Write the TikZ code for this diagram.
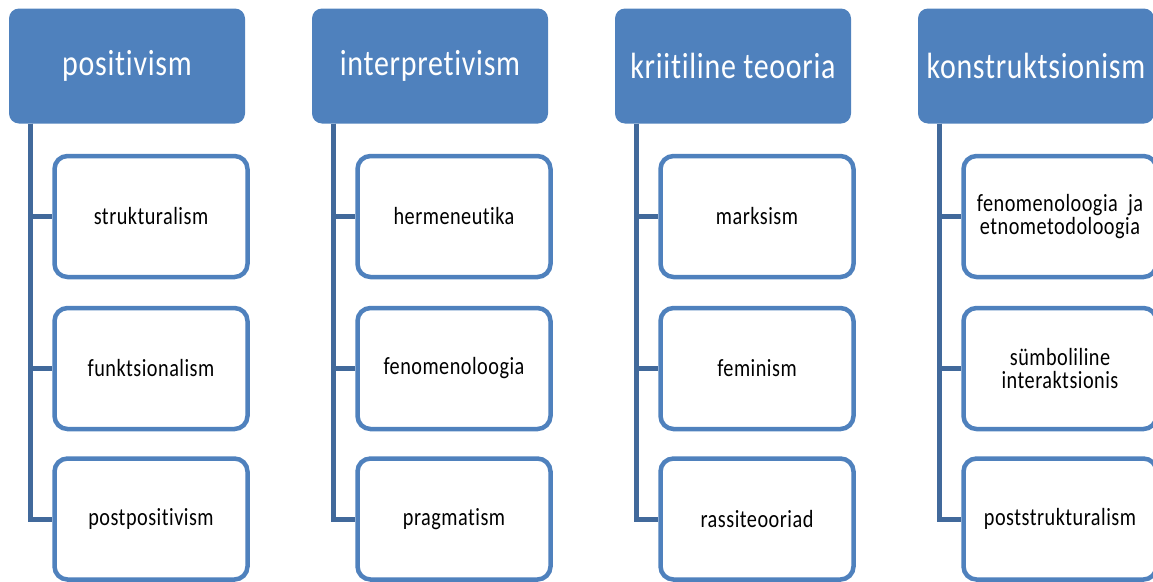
\documentclass[tikz,border=0pt]{standalone}
\usepackage{fontspec}
\setmainfont{Carlito}[FakeStretch=0.82, LetterSpace=2, RawFeature={-liga;-clig;-calt;-dlig}]
\usetikzlibrary{positioning}
\definecolor{headblue}{HTML}{4F81BD}
\definecolor{trunkblue}{HTML}{41699B}
\tikzset{
  head/.style={fill=headblue, rounded corners=10pt, minimum width=236pt, minimum height=115pt, text=white, font=\fontsize{36.5}{36.5}\selectfont},
  leaf/.style={draw=headblue, line width=4.5pt, fill=white, rounded corners=13pt, minimum width=193pt, minimum height=121pt, align=center, font=\fontsize{24.7}{23}\selectfont},
  trunk/.style={draw=trunkblue, line width=5pt}
}

\begin{document}
\begin{tikzpicture}[x=1pt, y=-1pt]
  % Page frame
  \clip (0,0) rectangle (1153,581);

  % Column 1: positivism
  \node[head] (pos) at (127,66) {positivism};
  \node[leaf] (pos1) at (151,216.5) {strukturalism};
  \node[leaf] (pos2) at (151,368.5) {funktsionalism};
  \node[leaf] (pos3) at (151,519) {postpositivism};
  \draw[trunk] ([xshift=21.5pt]pos.south west) |- (pos3.west);
  \draw[trunk] ([xshift=21.5pt]pos.south west) |- (pos1.west);
  \draw[trunk] ([xshift=21.5pt]pos.south west) |- (pos2.west);

  % Column 2: interpretivism
  \node[head] (int) at (430,66) {interpretivism};
  \node[leaf] (int1) at (454,216.5) {hermeneutika};
  \node[leaf] (int2) at (454,368.5) {fenomenoloogia};
  \node[leaf] (int3) at (454,519) {pragmatism};
  \draw[trunk] ([xshift=21.5pt]int.south west) |- (int3.west);
  \draw[trunk] ([xshift=21.5pt]int.south west) |- (int1.west);
  \draw[trunk] ([xshift=21.5pt]int.south west) |- (int2.west);

  % Column 3: kriitiline teooria
  \node[head] (kri) at (733,66) {kriitiline teooria};
  \node[leaf] (kri1) at (757,216.5) {marksism};
  \node[leaf] (kri2) at (757,368.5) {feminism};
  \node[leaf] (kri3) at (757,519) {rassiteooriad};
  \draw[trunk] ([xshift=21.5pt]kri.south west) |- (kri3.west);
  \draw[trunk] ([xshift=21.5pt]kri.south west) |- (kri1.west);
  \draw[trunk] ([xshift=21.5pt]kri.south west) |- (kri2.west);

  % Column 4: konstruktsionism (cut at the right edge)
  \node[head] (kon) at (1036,66) {konstruktsionism};
  \node[leaf] (kon1) at (1060,216.5) {fenomenoloogia\ \ ja\\etnometodoloogia};
  \node[leaf] (kon2) at (1060,368.5) {sümboliline\\interaktsionis};
  \node[leaf] (kon3) at (1060,519) {poststrukturalism};
  \draw[trunk] ([xshift=21.5pt]kon.south west) |- (kon3.west);
  \draw[trunk] ([xshift=21.5pt]kon.south west) |- (kon1.west);
  \draw[trunk] ([xshift=21.5pt]kon.south west) |- (kon2.west);
\end{tikzpicture}
\end{document}
